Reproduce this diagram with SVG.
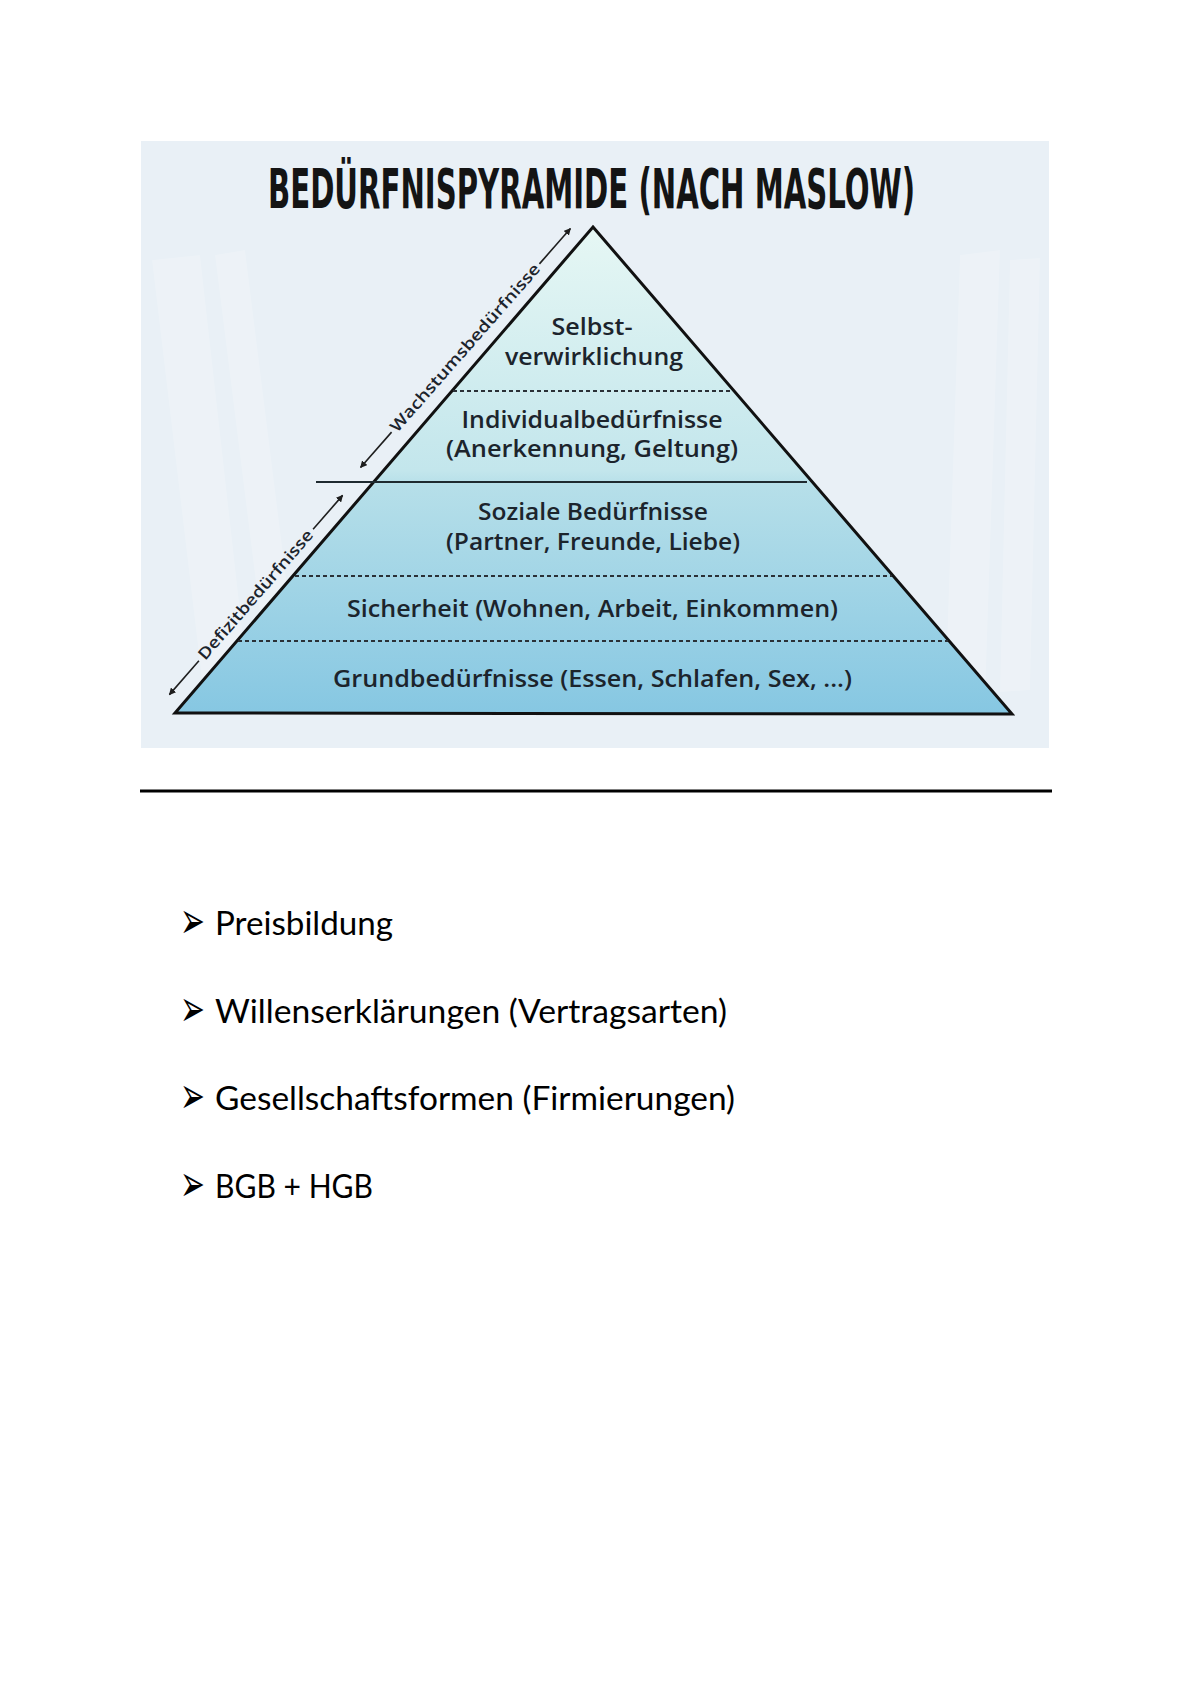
<svg xmlns="http://www.w3.org/2000/svg" width="1191" height="1684" viewBox="0 0 1191 1684">
  <style>
    .title { font-family: "Liberation Sans Narrow", "DejaVu Sans Condensed", "Liberation Sans", sans-serif; font-weight: bold; font-size: 40px; fill: #141414; }
    .lvl { font-family: "Open Sans", "Lato", "Noto Sans", sans-serif; font-weight: 600; font-size: 23px; fill: #1c242c; text-anchor: middle; }
    .side { font-family: "Open Sans", "Lato", "Noto Sans", sans-serif; font-weight: 600; font-size: 16px; fill: #1c242c; text-anchor: middle; }
    .dot { stroke: #2a3036; stroke-width: 2; stroke-dasharray: 4 3; fill: none; }
    .conn { stroke: #1e1e1e; stroke-width: 1.6; fill: none; }
    .bul { font-family: "DejaVu Sans", sans-serif; font-size: 27px; fill: #000; }
    .item { font-family: "Lato", "Open Sans", "Liberation Sans", sans-serif; font-size: 33px; fill: #000; }
  </style>
  <defs>
    <linearGradient id="pyr" gradientUnits="userSpaceOnUse" x1="0" y1="227" x2="0" y2="714">
      <stop offset="0" stop-color="#e6f7f4"/>
      <stop offset="0.5" stop-color="#c3e6ec"/>
      <stop offset="0.53" stop-color="#b6dfe9"/>
      <stop offset="1" stop-color="#86c7e2"/>
    </linearGradient>
    <marker id="ah" viewBox="0 0 10 10" refX="9" refY="5" markerWidth="7" markerHeight="7" markerUnits="userSpaceOnUse" orient="auto-start-reverse">
      <path d="M0,0 L10,5 L0,10 z" fill="#1e1e1e"/>
    </marker>
  </defs>

  <rect width="1191" height="1684" fill="#ffffff"/>

  <g id="panel">
    <rect x="141" y="141" width="908" height="607" fill="#e9f0f6"/>
    <g fill="#ffffff" opacity="0.18">
      <polygon points="152,260 200,255 250,700 205,705"/>
      <polygon points="215,255 245,250 300,690 270,695"/>
      <polygon points="960,255 1000,250 985,700 945,705"/>
      <polygon points="1010,260 1040,258 1030,690 1000,692"/>
    </g>
  </g>

  <g id="title">
    <text class="title" transform="translate(268,208) scale(1,1.4)" x="0" y="0" textLength="647" lengthAdjust="spacingAndGlyphs">BEDÜRFNISPYRAMIDE (NACH MASLOW)</text>
  </g>

  <g id="pyramid">
    <polygon points="593,227 1012,714 175,713" fill="url(#pyr)" stroke="#111" stroke-width="3" stroke-linejoin="miter"/>
    <line class="dot" x1="453" y1="391" x2="733" y2="391"/>
    <line x1="316" y1="482" x2="807" y2="482" stroke="#1e2a30" stroke-width="2"/>
    <line class="dot" x1="295" y1="576" x2="892" y2="576"/>
    <line class="dot" x1="238" y1="641" x2="948" y2="641"/>
  </g>

  <g id="level-selbstverwirklichung">
    <text class="lvl" x="592" y="335" textLength="81" lengthAdjust="spacingAndGlyphs">Selbst-</text>
    <text class="lvl" x="594" y="365" textLength="178" lengthAdjust="spacingAndGlyphs">verwirklichung</text>
  </g>
  <g id="level-individual">
    <text class="lvl" x="592" y="428" textLength="261" lengthAdjust="spacingAndGlyphs">Individualbedürfnisse</text>
    <text class="lvl" x="592" y="457" textLength="292" lengthAdjust="spacingAndGlyphs">(Anerkennung, Geltung)</text>
  </g>
  <g id="level-sozial">
    <text class="lvl" x="593" y="520" textLength="230" lengthAdjust="spacingAndGlyphs">Soziale Bedürfnisse</text>
    <text class="lvl" x="593" y="550" textLength="294" lengthAdjust="spacingAndGlyphs">(Partner, Freunde, Liebe)</text>
  </g>
  <g id="level-sicherheit">
    <text class="lvl" x="592.5" y="617" textLength="491" lengthAdjust="spacingAndGlyphs">Sicherheit (Wohnen, Arbeit, Einkommen)</text>
  </g>
  <g id="level-grund">
    <text class="lvl" x="592.5" y="687" textLength="519" lengthAdjust="spacingAndGlyphs">Grundbedürfnisse (Essen, Schlafen, Sex, ...)</text>
  </g>

  <g id="connectors">
    <g transform="translate(465.5,348) rotate(-48.7)">
      <line class="conn" x1="-112" y1="0" x2="-159" y2="0" marker-end="url(#ah)"/>
      <line class="conn" x1="112" y1="0" x2="159" y2="0" marker-end="url(#ah)"/>
    </g>
    <g transform="translate(256,595) rotate(-49)">
      <line class="conn" x1="-87" y1="0" x2="-132" y2="0" marker-end="url(#ah)"/>
      <line class="conn" x1="87" y1="0" x2="132" y2="0" marker-end="url(#ah)"/>
    </g>
  </g>

  <g id="label-wachstum">
    <text class="side" transform="translate(465.5,348) rotate(-48.7)" x="0" y="5" textLength="218" lengthAdjust="spacingAndGlyphs">Wachstumsbedürfnisse</text>
  </g>
  <g id="label-defizit">
    <text class="side" transform="translate(256,595) rotate(-49)" x="0" y="5" textLength="166" lengthAdjust="spacingAndGlyphs">Defizitbedürfnisse</text>
  </g>

  <g id="rule">
    <line x1="140" y1="791" x2="1052" y2="791" stroke="#000" stroke-width="3"/>
  </g>

  <g id="list">
    <g id="item-1">
      <text class="bul" transform="translate(180,921) scale(1.1,1.9)" x="0" y="9">➢</text>
      <text class="item" x="215" y="935" textLength="178" lengthAdjust="spacingAndGlyphs">Preisbildung</text>
    </g>
    <g id="item-2">
      <text class="bul" transform="translate(180,1009) scale(1.1,1.9)" x="0" y="9">➢</text>
      <text class="item" x="215" y="1023" textLength="512" lengthAdjust="spacingAndGlyphs">Willenserklärungen (Vertragsarten)</text>
    </g>
    <g id="item-3">
      <text class="bul" transform="translate(180,1096) scale(1.1,1.9)" x="0" y="9">➢</text>
      <text class="item" x="215" y="1110" textLength="520" lengthAdjust="spacingAndGlyphs">Gesellschaftsformen (Firmierungen)</text>
    </g>
    <g id="item-4">
      <text class="bul" transform="translate(180,1184) scale(1.1,1.9)" x="0" y="9">➢</text>
      <text class="item" x="215" y="1198" textLength="158" lengthAdjust="spacingAndGlyphs">BGB + HGB</text>
    </g>
  </g>
</svg>
